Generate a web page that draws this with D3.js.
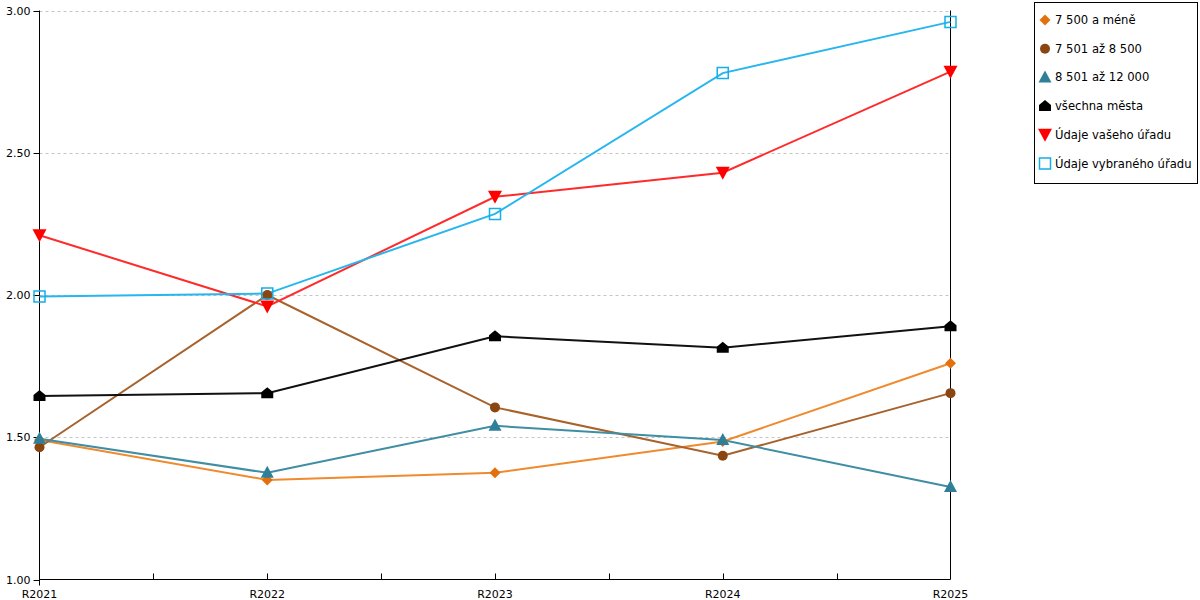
<!DOCTYPE html>
<html>
<head>
<meta charset="utf-8">
<script src="https://cdn.jsdelivr.net/npm/d3@7"></script>
<style>
body { margin: 0; background: #fff; }
text { font-family: "DejaVu Sans", Verdana, sans-serif; font-size: 11px; }
.legendText { font-size: 11.6px; }
</style>
</head>
<body>
<svg id="chart" width="1200" height="600"></svg>
<script>
// data
var categories = ["R2021", "R2022", "R2023", "R2024", "R2025"];
var seriesNames = ["7 500 a méně", "7 501 až 8 500", "8 501 až 12 000", "všechna města", "Údaje vašeho úřadu", "Údaje vybraného úřadu"];
var orangeValues = [1.49, 1.35, 1.375, 1.485, 1.76];
var brownValues = [1.465, 2.00, 1.605, 1.435, 1.655];
var tealValues = [1.495, 1.375, 1.54, 1.49, 1.325];
var blackValues = [1.645, 1.655, 1.855, 1.815, 1.89];
var redValues = [2.21, 1.96, 2.345, 2.43, 2.785];
var cyanValues = [1.995, 2.005, 2.285, 2.78, 2.96];
var yTicks = [1.0, 1.5, 2.0, 2.5, 3.0];

var plotLeft = 39.5, plotRight = 950.5, plotTop = 10.5, plotBottom = 579.5;

var svg = d3.select("#chart");

var x = d3.scalePoint().domain(categories).range([plotLeft, plotRight]);
var y = d3.scaleLinear().domain([1, 3]).range([plotBottom, plotTop]);

var styles = [
    {values: orangeValues, line: "#ef8a2e", fill: "#e3700f", shape: "diamond"},
    {values: brownValues, line: "#a8622c", fill: "#8b4511", shape: "circle"},
    {values: tealValues, line: "#3f8ea4", fill: "#2f7f98", shape: "triangle"},
    {values: blackValues, line: "#111111", fill: "#000000", shape: "house"},
    {values: redValues, line: "#ff2a2a", fill: "#ff0000", shape: "triangleDown"},
    {values: cyanValues, line: "#27b6ee", fill: "none", stroke: "#14aee8", shape: "square"}
];

function markerPath(shape) {
    switch (shape) {
        case "diamond": return "M0,-5.5L5.5,0L0,5.5L-5.5,0Z";
        case "circle": return "M5,0A5,5 0 1,1 -5,0A5,5 0 1,1 5,0Z";
        case "triangle": return "M0,-7L6.5,5L-6.5,5Z";
        case "house": return "M0,-6L6,-1L6,5L-6,5L-6,-1Z";
        case "triangleDown": return "M-7,-6L7,-6L0,7Z";
        case "square": return "M-5.5,-5.5L5.5,-5.5L5.5,5.5L-5.5,5.5Z";
    }
}

// grid
svg.append("g")
    .selectAll("line")
    .data(yTicks.filter(t => t > 1))
    .join("line")
    .attr("x1", plotLeft).attr("x2", plotRight)
    .attr("y1", d => Math.round(y(d)) + 0.5).attr("y2", d => Math.round(y(d)) + 0.5)
    .attr("stroke", "#c4c4c4")
    .attr("stroke-dasharray", "3,3");

// y axis
var yAxis = svg.append("g");
yAxis.append("line")
    .attr("x1", plotLeft).attr("x2", plotLeft).attr("y1", plotTop).attr("y2", plotBottom + 6)
    .attr("stroke", "#000");
yAxis.selectAll(".ytick")
    .data(yTicks)
    .join("line")
    .attr("x1", plotLeft - 6).attr("x2", plotLeft)
    .attr("y1", d => Math.round(y(d)) + 0.5).attr("y2", d => Math.round(y(d)) + 0.5)
    .attr("stroke", "#000");
yAxis.selectAll("text")
    .data(yTicks)
    .join("text")
    .attr("x", plotLeft - 9)
    .attr("y", d => y(d) + 4)
    .attr("text-anchor", "end")
    .attr("fill", "#000")
    .text(d => d3.format(".2f")(d));

// right axis line
svg.append("line")
    .attr("x1", plotRight).attr("x2", plotRight).attr("y1", plotTop).attr("y2", plotBottom)
    .attr("stroke", "#000");

// x axis
var xAxis = svg.append("g");
xAxis.append("line")
    .attr("x1", plotLeft).attr("x2", plotRight).attr("y1", plotBottom).attr("y2", plotBottom)
    .attr("stroke", "#000");
var halfTicks = [];
categories.forEach(function(c, i) {
    if (i < categories.length - 1) halfTicks.push(Math.round((x(c) + x(categories[i + 1])) / 2) + 0.5);
});
xAxis.selectAll(".half")
    .data(halfTicks)
    .join("line")
    .attr("x1", d => d).attr("x2", d => d)
    .attr("y1", plotBottom - 6).attr("y2", plotBottom)
    .attr("stroke", "#000");
xAxis.selectAll(".cat")
    .data(categories.slice(1, -1))
    .join("line")
    .attr("x1", d => Math.round(x(d)) + 0.5).attr("x2", d => Math.round(x(d)) + 0.5)
    .attr("y1", plotBottom - 6).attr("y2", plotBottom)
    .attr("stroke", "#000");
xAxis.selectAll("text")
    .data(categories)
    .join("text")
    .attr("x", d => x(d))
    .attr("y", plotBottom + 18)
    .attr("text-anchor", "middle")
    .attr("fill", "#000")
    .text(d => d);

// lines
var line = d3.line()
    .x((d, i) => x(categories[i]))
    .y(d => y(d));

styles.forEach(function(s) {
    svg.append("path")
        .datum(s.values)
        .attr("d", line)
        .attr("fill", "none")
        .attr("stroke", s.line)
        .attr("stroke-width", 2);
});

// markers
styles.forEach(function(s) {
    svg.append("g")
        .selectAll("path")
        .data(s.values)
        .join("path")
        .attr("transform", (d, i) => "translate(" + x(categories[i]) + "," + y(d) + ")")
        .attr("d", markerPath(s.shape))
        .attr("fill", s.fill)
        .attr("stroke", s.stroke || "none")
        .attr("stroke-width", 1.5);
});

// legend
var legend = svg.append("g");
legend.append("rect")
    .attr("x", 1034.5).attr("y", 2.5)
    .attr("width", 163).attr("height", 181)
    .attr("fill", "#fff")
    .attr("stroke", "#000");

var legendRow = legend.selectAll(".row")
    .data(seriesNames)
    .join("g")
    .attr("transform", (d, i) => "translate(1045," + (20 + i * 28.7) + ")");

legendRow.append("path")
    .attr("d", (d, i) => markerPath(styles[i].shape))
    .attr("fill", (d, i) => styles[i].fill)
    .attr("stroke", (d, i) => styles[i].stroke || "none")
    .attr("stroke-width", 1.5);

legendRow.append("text")
    .attr("class", "legendText")
    .attr("x", 10)
    .attr("y", 4)
    .attr("fill", "#000")
    .text(d => d);
</script>
</body>
</html>
